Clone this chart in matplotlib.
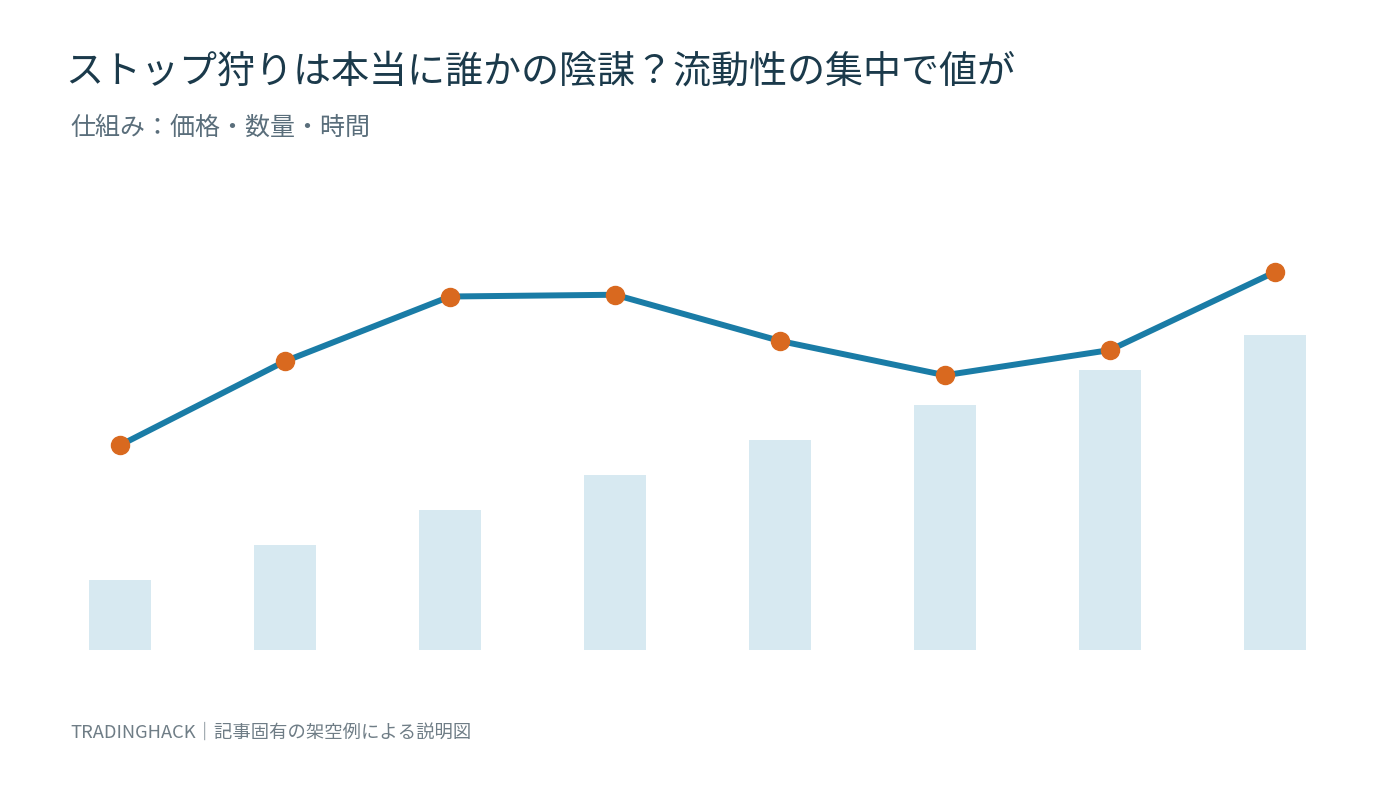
import matplotlib
matplotlib.use("Agg")
import matplotlib.pyplot as plt

plt.rcParams['font.family'] = ['Noto Sans CJK JP', 'DejaVu Sans']

# データ
periods = list(range(8))
volume = [2, 3, 4, 5, 6, 7, 8, 9]
price = [5.85, 8.25, 10.1, 10.15, 8.83, 7.85, 8.57, 10.8]

title = "ストップ狩りは本当に誰かの陰謀？流動性の集中で値が"
subtitle = "仕組み：価格・数量・時間"
footer = "TRADINGHACK｜記事固有の架空例による説明図"

fig = plt.figure(figsize=(14, 7.88), dpi=100)
ax = fig.add_axes([37.5/1400, 138/788, 1320/1400, 455/788])

ax.bar(periods, volume, width=0.37, color="#d7e9f1", zorder=1)
ax.plot(periods, price, color="#1a7ca6", linewidth=4.3, zorder=2,
        marker="o", markersize=13, markerfacecolor="#d9691f",
        markeredgecolor="#d9691f")

ax.set_xlim(-0.5, 7.5)
ax.set_ylim(0, 13)
ax.axis("off")

fig.text(65/1400, 1 - 72/788, title, fontsize=27.4, color="#1b3a4b", va="center", ha="left")
fig.text(70/1400, 1 - 128/788, subtitle, fontsize=18, color="#5a6e7b", va="center", ha="left")
fig.text(70/1400, 1 - 733/788, footer, fontsize=13.2, color="#6f7d86", va="center", ha="left")

fig.savefig("out.png", dpi=100, facecolor="white")
